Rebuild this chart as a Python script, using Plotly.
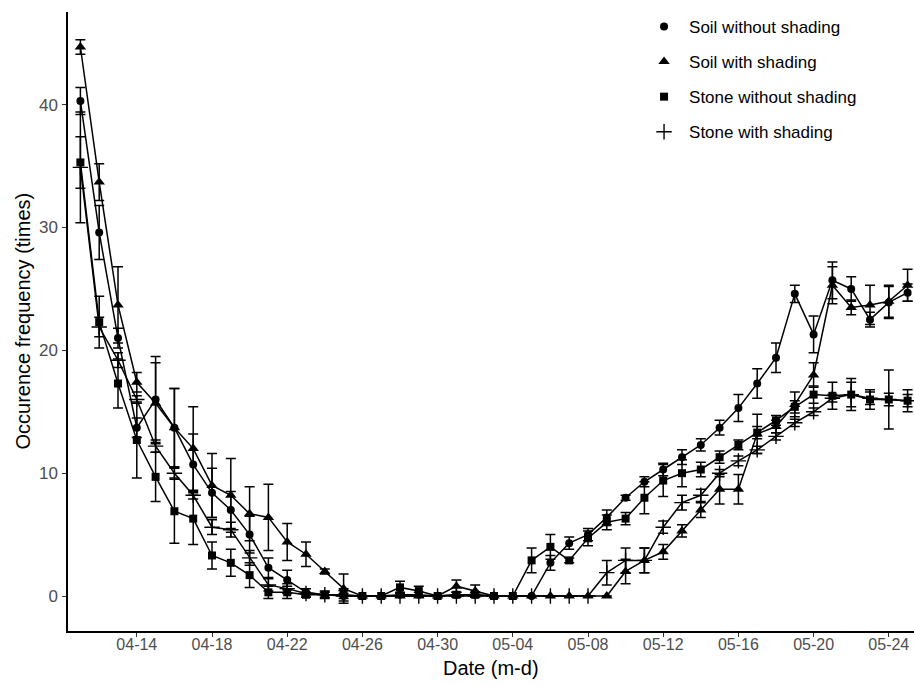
import plotly.graph_objects as go

dates = ["2021-04-11", "2021-04-12", "2021-04-13", "2021-04-14", "2021-04-15", "2021-04-16",
         "2021-04-17", "2021-04-18", "2021-04-19", "2021-04-20", "2021-04-21", "2021-04-22",
         "2021-04-23", "2021-04-24", "2021-04-25", "2021-04-26", "2021-04-27", "2021-04-28",
         "2021-04-29", "2021-04-30", "2021-05-01", "2021-05-02", "2021-05-03", "2021-05-04",
         "2021-05-05", "2021-05-06", "2021-05-07", "2021-05-08", "2021-05-09", "2021-05-10",
         "2021-05-11", "2021-05-12", "2021-05-13", "2021-05-14", "2021-05-15", "2021-05-16",
         "2021-05-17", "2021-05-18", "2021-05-19", "2021-05-20", "2021-05-21", "2021-05-22",
         "2021-05-23", "2021-05-24", "2021-05-25"]

soil_no_shade = [40.3, 29.6, 21.0, 13.7, 16.0, 13.7, 10.7, 8.4, 7.0, 5.0, 2.3, 1.3, 0.3, 0.1, 0.0,
                 0.0, 0.0, 0.1, 0.1, 0.0, 0.1, 0.1, 0.0, 0.0, 0.0, 2.7, 4.3, 5.0, 6.4, 8.0,
                 9.3, 10.3, 11.3, 12.3, 13.7, 15.3, 17.3, 19.4, 24.6, 21.3, 25.7, 25.0, 22.5, 23.9, 24.7]
soil_no_shade_err = [1.1, 2.2, 0.8, 0.8, 3.5, 3.2, 2.5, 2.0, 1.5, 1.5, 0.8, 0.8, 0.3, 0.3, 0.2,
                     0.0, 0.0, 0.2, 0.2, 0.0, 0.2, 0.2, 0.0, 0.0, 0.0, 0.6, 0.5, 0.5, 0.6, 0.2,
                     0.4, 0.5, 0.6, 0.5, 0.6, 1.1, 1.2, 1.2, 0.7, 1.5, 1.5, 1.0, 0.6, 1.3, 0.7]

soil_shade = [44.7, 33.7, 23.7, 17.4, 15.7, 13.7, 12.0, 9.0, 8.2, 6.7, 6.4, 4.4, 3.4, 2.0, 0.6,
              0.0, 0.0, 0.0, 0.0, 0.0, 0.8, 0.4, 0.0, 0.0, 0.0, 0.0, 0.0, 0.0, 0.0, 2.0,
              2.9, 3.6, 5.3, 7.0, 8.7, 8.7, 13.2, 13.8, 15.6, 18.0, 25.3, 23.5, 23.7, 24.0, 25.3]
soil_shade_err = [0.6, 1.5, 3.1, 0.8, 3.3, 3.2, 3.4, 2.6, 3.0, 2.2, 2.7, 1.5, 1.0, 0.2, 1.2,
                  0.0, 0.0, 0.0, 0.0, 0.0, 0.5, 0.5, 0.0, 0.0, 0.0, 0.0, 0.0, 0.0, 0.0, 1.0,
                  1.0, 0.6, 0.5, 0.6, 1.2, 1.2, 1.6, 0.5, 1.0, 1.0, 1.5, 0.6, 1.6, 1.3, 1.3]

stone_no_shade = [35.3, 22.3, 17.3, 12.7, 9.7, 6.9, 6.3, 3.3, 2.7, 1.7, 0.3, 0.3, 0.1, 0.1, 0.1,
                  0.0, 0.0, 0.7, 0.4, 0.0, 0.1, 0.1, 0.0, 0.0, 2.9, 4.0, 2.9, 4.7, 6.0, 6.3,
                  8.0, 9.4, 10.0, 10.3, 11.3, 12.3, 13.3, 14.3, 15.4, 16.4, 16.3, 16.4, 16.0, 16.0, 15.9]
stone_no_shade_err = [2.1, 2.1, 2.0, 3.1, 2.0, 2.6, 2.1, 1.1, 1.1, 1.0, 0.5, 0.5, 0.2, 0.2, 0.5,
                      0.0, 0.0, 0.5, 0.4, 0.0, 0.0, 0.0, 0.0, 0.0, 1.0, 1.0, 0.2, 0.6, 0.6, 0.5,
                      1.3, 1.3, 1.1, 0.6, 0.5, 0.4, 0.5, 0.4, 0.5, 0.7, 1.1, 1.3, 0.8, 2.4, 0.9]

stone_shade = [34.9, 21.9, 19.2, 16.0, 12.2, 10.0, 8.2, 5.6, 5.4, 3.1, 0.9, 0.6, 0.2, 0.1, 0.0,
               0.0, 0.0, 0.0, 0.0, 0.0, 0.0, 0.0, 0.0, 0.0, 0.0, 0.0, 0.0, 0.0, 1.9, 2.9,
               2.9, 5.6, 7.6, 8.2, 10.0, 11.0, 11.9, 13.0, 14.1, 15.0, 16.1, 16.4, 16.1, 16.0, 15.9]
stone_shade_err = [4.5, 0.8, 0.6, 0.3, 0.5, 0.4, 0.3, 0.6, 0.6, 0.6, 0.5, 0.4, 0.0, 0.0, 0.0,
                   0.0, 0.0, 0.0, 0.0, 0.0, 0.0, 0.0, 0.0, 0.0, 0.0, 0.0, 0.0, 0.0, 1.0, 1.0,
                   1.0, 0.5, 0.6, 0.5, 0.3, 0.4, 0.3, 0.3, 0.3, 0.3, 0.3, 1.0, 0.5, 0.5, 0.5]

series_names = ["Soil without shading", "Soil with shading", "Stone without shading", "Stone with shading"]
symbols = ["circle", "triangle-up", "square", "cross-thin"]
sizes = [8, 10, 8, 11]
values = [soil_no_shade, soil_shade, stone_no_shade, stone_shade]
errors = [soil_no_shade_err, soil_shade_err, stone_no_shade_err, stone_shade_err]

x_title = "Date (m-d)"
y_title = "Occurence frequency (times)"

fig = go.Figure()
for name, sym, sz, v, e in zip(series_names, symbols, sizes, values, errors):
    lw = 1.4 if sym == "cross-thin" else 0
    fig.add_trace(go.Scatter(
        x=dates, y=v, mode="lines+markers", showlegend=False, cliponaxis=False,
        line=dict(color="black", width=1.5),
        marker=dict(symbol=sym, size=sz, color="black", line=dict(color="black", width=lw)),
        error_y=dict(type="data", array=e, visible=True, color="black", thickness=1.5, width=5),
    ))

for i, (name, sym, sz) in enumerate(zip(series_names, symbols, sizes)):
    lw = 1.4 if sym == "cross-thin" else 0
    fig.add_trace(go.Scatter(
        x=[None], y=[None], mode="markers", name=name, legendgroup=str(i),
        marker=dict(symbol=sym, size=sz, color="black", line=dict(color="black", width=lw)),
    ))

fig.update_layout(
    width=914, height=685,
    margin=dict(l=68, r=0, t=12, b=54),
    plot_bgcolor="white", paper_bgcolor="white",
    font=dict(family="Liberation Sans, Arial, sans-serif", color="black"),
    legend=dict(x=0.675, y=1.005, xanchor="left", yanchor="top",
                font=dict(size=17, color="black"), bgcolor="rgba(0,0,0,0)",
                tracegroupgap=10, itemsizing="trace", itemwidth=40),
    xaxis=dict(
        type="date", range=["2021-04-10 08:10", "2021-05-25 08:10"],
        tick0="2021-04-14", dtick=4 * 86400000, tickformat="%m-%d",
        showgrid=False, zeroline=False, automargin=False,
        showline=True, linecolor="black", linewidth=1.5,
        ticks="outside", ticklen=4, tickcolor="#333333", tickwidth=1,
        tickfont=dict(size=16, color="#4d4d4d"), ticklabelstandoff=-6,
    ),
    yaxis=dict(
        range=[-2.85, 47.55], tickvals=[0, 10, 20, 30, 40],
        showgrid=False, zeroline=False, automargin=False,
        showline=True, linecolor="black", linewidth=1.5,
        ticks="outside", ticklen=4, tickcolor="#333333", tickwidth=1,
        tickfont=dict(size=17, color="#4d4d4d"), ticklabelstandoff=1,
    ),
    annotations=[
        dict(text=x_title, xref="paper", yref="paper", x=0.5, y=0, xanchor="center",
             yanchor="middle", yshift=-37, showarrow=False, font=dict(size=20, color="black")),
        dict(text=y_title, xref="paper", yref="paper", x=0, y=0.5, xanchor="center",
             yanchor="middle", xshift=-46, textangle=-90, showarrow=False,
             font=dict(size=20, color="black")),
    ],
)

fig.write_html("out.html", config={"displayModeBar": False},
               post_script="document.body.style.margin='0';document.body.style.padding='0';")
